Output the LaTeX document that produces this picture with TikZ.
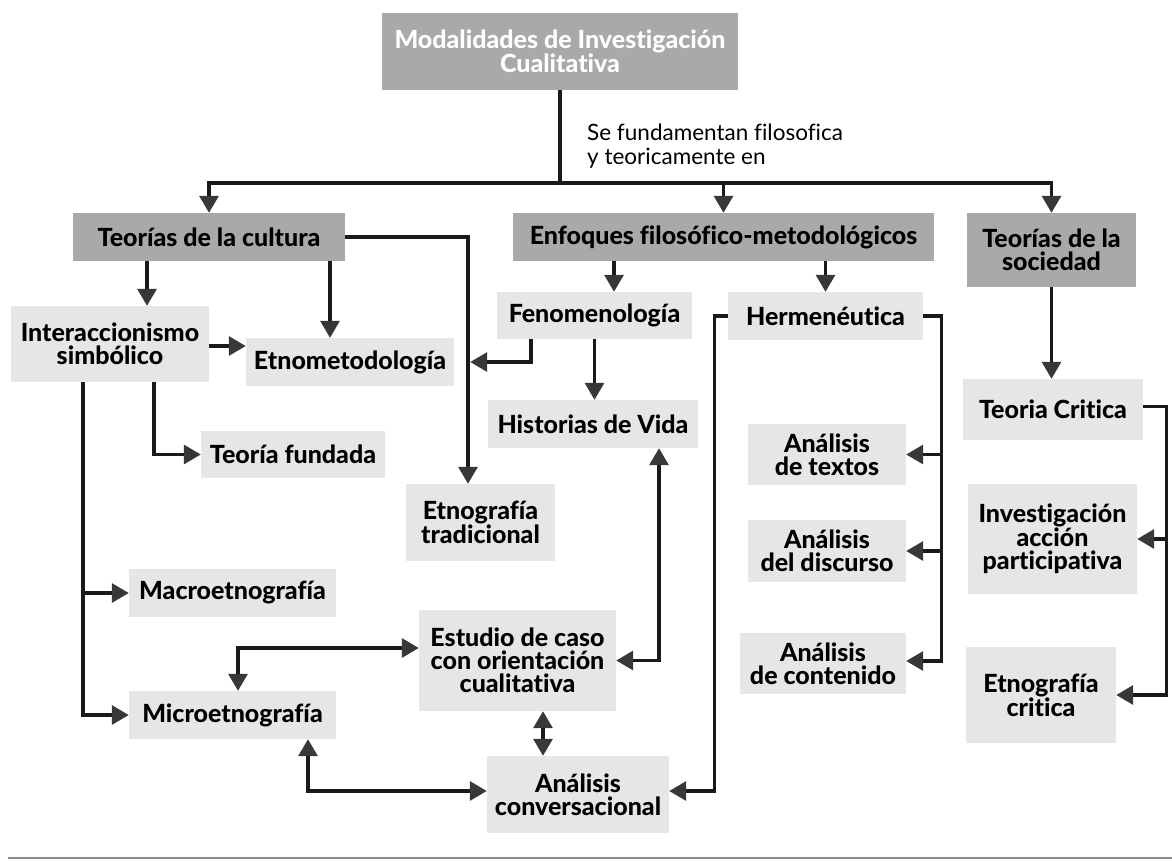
\documentclass[tikz,border=0pt]{standalone}
\usepackage{fontspec}
\setmainfont{Lato}[BoldFont={Lato Heavy}, Ligatures={NoCommon}]
\usetikzlibrary{arrows.meta}

\definecolor{boxdark}{HTML}{A9A9A9}
\definecolor{boxlight}{HTML}{E6E6E6}
\definecolor{ink}{HTML}{1A1A1A}
\definecolor{tipfill}{HTML}{383838}

\tikzset{
  box/.style={fill=boxlight, inner sep=0pt, align=center,
    font=\bfseries\fontsize{25}{23}\selectfont, text=black},
  headbox/.style={box, fill=boxdark},
  conn/.style={draw=ink, line width=3.2pt},
  arr/.style={conn, -{Triangle[length=17pt,width=19pt,fill=tipfill,color=tipfill]}},
  biarr/.style={conn, {Triangle[length=17pt,width=19pt,fill=tipfill,color=tipfill]}-{Triangle[length=17pt,width=19pt,fill=tipfill,color=tipfill]}},
}

\begin{document}
\begin{tikzpicture}[x=1pt,y=-1pt]
\useasboundingbox[fill=white] (0,0) rectangle (1172,860);

% root
\node[headbox, text=white, font=\bfseries\fontsize{25}{24}\selectfont,
      minimum width=356pt, minimum height=77pt] (top) at (560,51.5)
      {Modalidades de Investigación\\Cualitativa};
\node[anchor=north west, inner sep=0pt, align=left,
      font=\fontsize{22.5}{23.5}\selectfont] (lbl) at (587,124)
      {Se fundamentan filosofica\\y teoricamente en};

% first level
\node[headbox, minimum width=272pt, minimum height=48pt] (cult) at (209,237) {Teorías de la cultura};
\node[headbox, minimum width=421pt, minimum height=48pt] (enf) at (723.5,237) {Enfoques filosófico-metodológicos};
\node[headbox, minimum width=169pt, minimum height=74pt] (soc) at (1051.5,250) {Teorías de la\\sociedad};

% culture branch
\node[box, minimum width=198pt, minimum height=76pt] (inter) at (110,344) {Interaccionismo\\simbólico};
\node[box, minimum width=208pt, minimum height=48pt] (etno) at (350,362) {Etnometodología};
\node[box, minimum width=184pt, minimum height=47pt] (fund) at (293,454.5) {Teoría fundada};
\node[box, minimum width=149pt, minimum height=77pt] (etrad) at (480.5,522.5) {Etnografía\\tradicional};
\node[box, minimum width=207pt, minimum height=48pt] (macro) at (232.5,593) {Macroetnografía};
\node[box, minimum width=207pt, minimum height=48pt] (micro) at (232.5,715) {Microetnografía};

% philosophical branch
\node[box, minimum width=195pt, minimum height=47pt] (fenom) at (594.5,315.5) {Fenomenología};
\node[box, minimum width=195pt, minimum height=48pt] (herm) at (825.5,316) {Hermenéutica};
\node[box, minimum width=210pt, minimum height=48pt] (hist) at (593,424) {Historias de Vida};
\node[box, minimum width=197pt, minimum height=101pt] (estudio) at (517.5,660.5) {Estudio de caso\\con orientación\\cualitativa};
\node[box, minimum width=182pt, minimum height=77pt] (ac) at (578,794.5) {Análisis\\conversacional};
\node[box, minimum width=158pt, minimum height=61pt] (atext) at (827,454.5) {Análisis\\de textos};
\node[box, minimum width=158pt, minimum height=62pt] (adisc) at (827,551) {Análisis\\del discurso};
\node[box, minimum width=166pt, minimum height=61pt] (acont) at (823,663.5) {Análisis\\de contenido};

% society branch
\node[box, minimum width=180pt, minimum height=61pt] (tcrit) at (1053,409.5) {Teoria Critica};
\node[box, minimum width=169pt, minimum height=110pt] (iap) at (1052.5,539) {Investigación\\acción\\participativa};
\node[box, minimum width=150pt, minimum height=96pt] (ecrit) at (1041,695) {Etnografía\\critica};

% trunk from the root
\coordinate (bus) at (560,183);
\draw[conn] (top.south) -- (bus);
\draw[arr] (bus) -| (cult.north);
\draw[arr] (bus) -| (enf.north);
\draw[arr] (bus) -| (soc.north);

% culture connectors
\draw[arr] ([xshift=-62pt]cult.south) -- ([xshift=-62pt]cult.south |- inter.north);
\draw[arr] ([xshift=121pt]cult.south) -- ([xshift=121pt]cult.south |- etno.north);
\draw[arr] (cult.east) -| ([xshift=-12.5pt]etrad.north);
\draw[arr] ([yshift=-2pt]inter.east) -- ([yshift=-2pt]inter.east -| etno.west);
\draw[arr] ([xshift=44pt]inter.south) |- (fund.west);
\draw[arr] ([xshift=-27pt]inter.south) |- (macro.west);
\draw[arr] ([xshift=-27pt]inter.south) |- (micro.west);

% philosophical connectors
\draw[arr] ([xshift=-109.5pt]enf.south) -- ([xshift=-109.5pt]enf.south |- fenom.north);
\draw[arr] (enf.south -| herm.north) -- (herm.north);
\draw[arr, shorten >=16pt] ([xshift=-63.5pt]fenom.south) |- (etno.east);
\draw[arr] (fenom.south) -- (fenom.south |- hist.north);
\draw[biarr] (estudio.east) -| ([xshift=66pt]hist.south);
\draw[biarr] ([yshift=12.5pt]estudio.west) -| ([xshift=5.5pt]micro.north);
\draw[biarr] ([xshift=75.5pt]micro.south) |- ([yshift=3.5pt]ac.west);
\draw[biarr] ([xshift=25.5pt]estudio.south) -- ([xshift=25.5pt]estudio.south |- ac.north);
\draw[arr] (herm.west) -- ([xshift=-13pt]herm.west) |- ([yshift=3.5pt]ac.east);
\draw[arr] (herm.east) -- ([xshift=18pt]herm.east) |- ([yshift=2.5pt]acont.east);
\draw[arr] ([xshift=18pt]herm.east |- atext.east) -- (atext.east);
\draw[arr] ([xshift=18pt]herm.east |- adisc.east) -- (adisc.east);

% society connectors
\draw[arr] (soc.south) -- (soc.south |- tcrit.north);
\draw[arr] ([yshift=3pt]tcrit.east) -- ([xshift=23pt,yshift=3pt]tcrit.east) |- (ecrit.east);
\draw[arr] ([xshift=23pt]tcrit.east |- iap.east) -- (iap.east);

% rule along the foot
\draw[black!45, line width=2pt] (8,858) -- (1172,858);
\end{tikzpicture}
\end{document}
